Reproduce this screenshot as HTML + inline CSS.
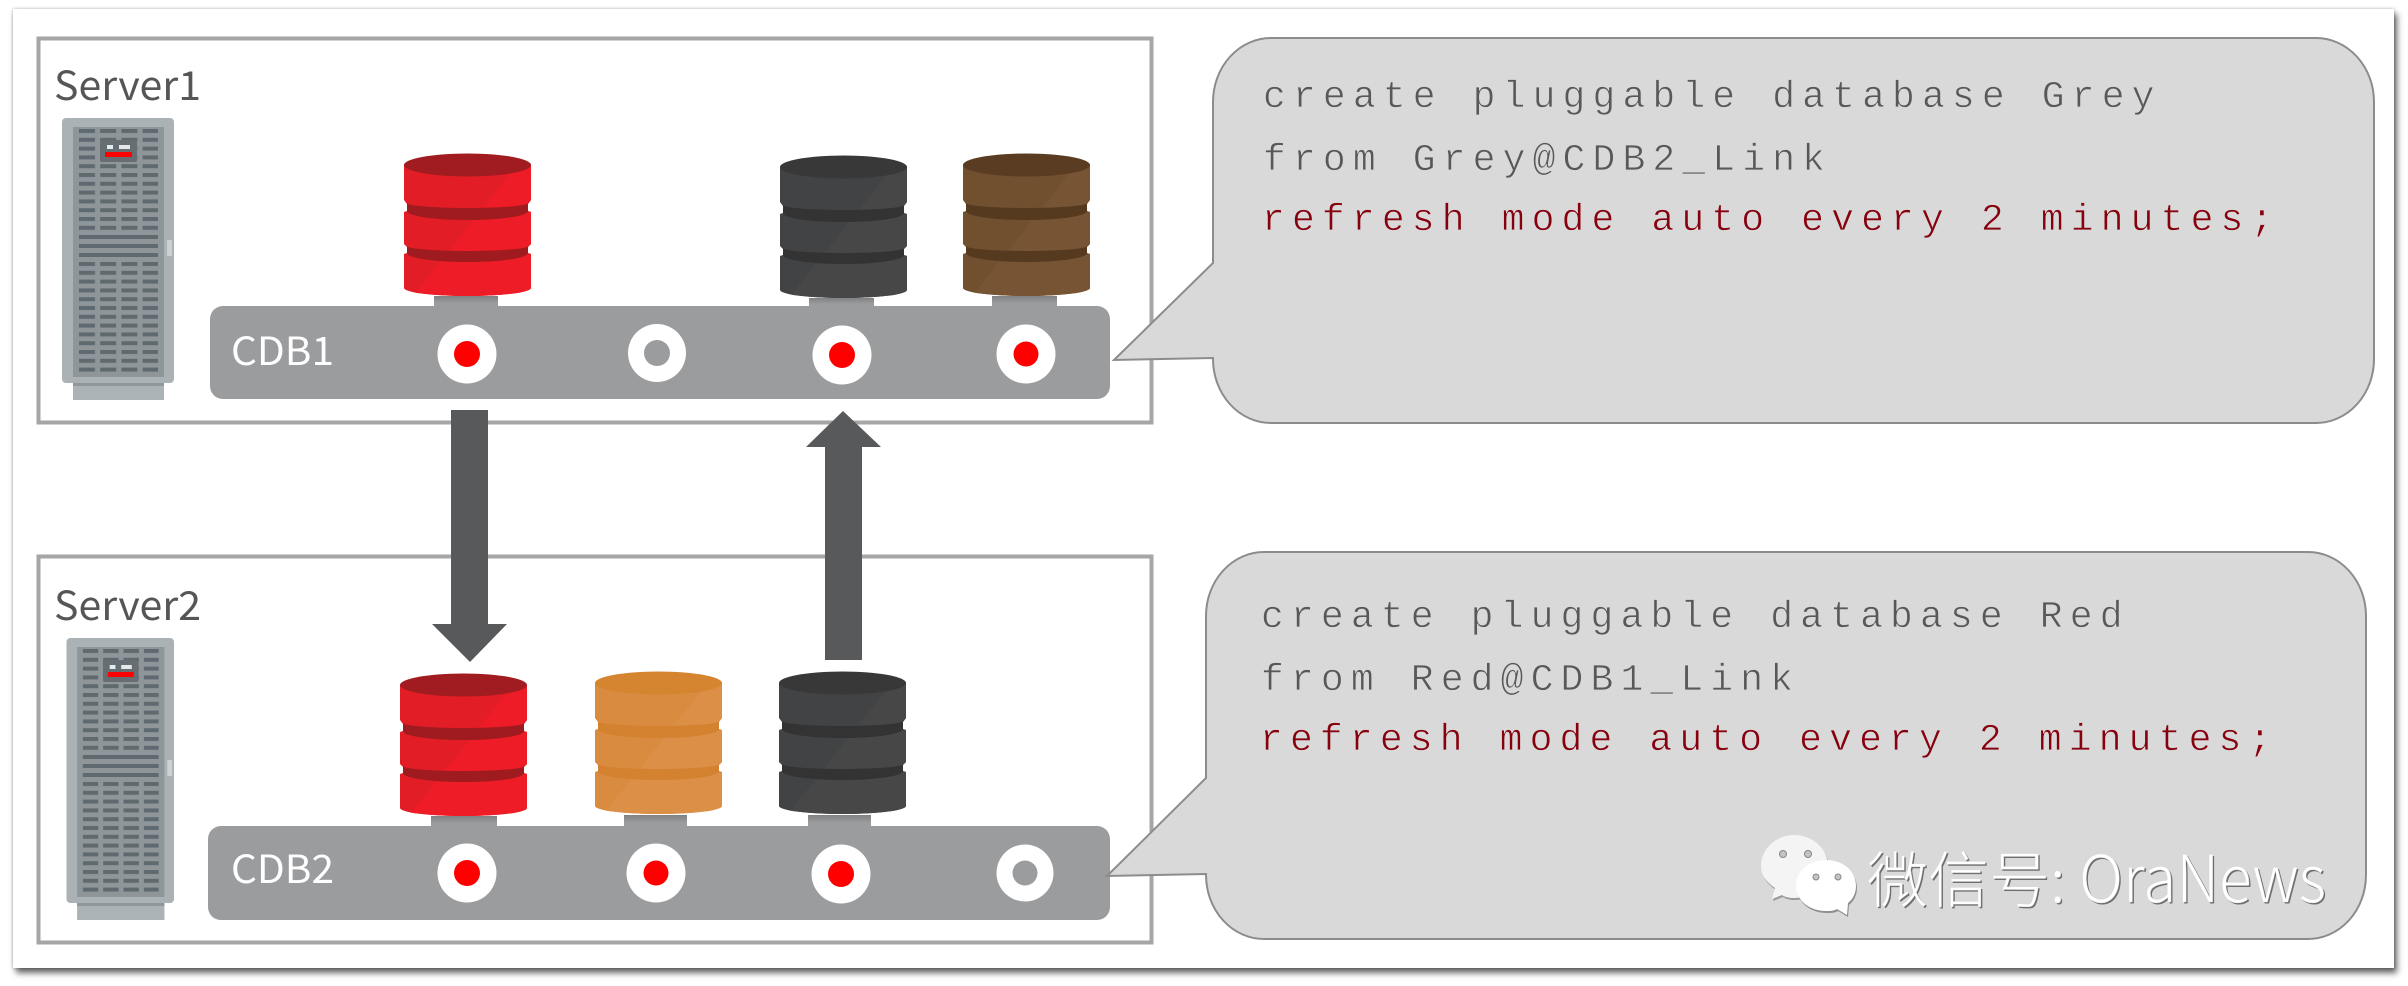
<!DOCTYPE html>
<html><head><meta charset="utf-8">
<style>
html,body{margin:0;padding:0;background:#fff;width:2408px;height:986px;overflow:hidden}
#panel{position:absolute;left:13px;top:9px;width:2381px;height:959px;background:#fff;box-shadow:3px 5px 6px rgba(0,0,0,.6),0 0 3px rgba(0,0,0,.3)}
svg{position:absolute;left:0;top:0}
.mono{font-family:"Liberation Mono",monospace;font-size:38px;letter-spacing:7.15px;stroke:#d9d9d9;stroke-width:.7px}
.g{fill:#585858}.r{fill:#86000e}
.sans{font-family:"Noto Sans CJK SC","Liberation Sans",sans-serif;font-size:40px}
.wm{font-family:"Noto Sans CJK SC","Liberation Sans",sans-serif;font-weight:300}
</style></head><body>
<div id="panel"></div>
<svg width="2408" height="986" viewBox="0 0 2408 986" xmlns="http://www.w3.org/2000/svg">
<defs>
<pattern id="sl" x="6" y="0" width="21.2" height="8.8" patternUnits="userSpaceOnUse">
<rect x="0" y="0" width="16" height="4" fill="#5f6a70"/>
</pattern>
<clipPath id="bc"><path d="M0,11V46L3,50V57L0,58V90L3,93V99L0,100V134A63.5,8 0 0 0 127,134V100L124,99V93L127,90V58L124,57V50L127,46V11Z"/></clipPath>
<g id="srv">
<rect x="0" y="0" width="112" height="265" rx="4" fill="#aab2b6"/>
<rect x="11" y="265" width="91" height="17" fill="#abb3b7"/>
<rect x="11" y="265" width="91" height="3" fill="#8f979b"/>
<rect x="11" y="9" width="91" height="250" fill="#8e969a"/>
<g transform="translate(11,11)">
<rect x="6" y="0" width="79" height="105" fill="url(#sl)"/>
<rect x="6" y="106" width="79" height="4" fill="#5f6a70"/>
<rect x="6" y="115" width="79" height="4" fill="#5f6a70"/>
<rect x="6" y="124" width="79" height="4" fill="#5f6a70"/>
<g transform="translate(0,133)"><rect x="6" y="0" width="79" height="114" fill="url(#sl)"/></g>
</g>
<rect x="38" y="22" width="37" height="22" rx="2" fill="#666e74"/>
<rect x="43" y="34" width="27" height="5" fill="#f00"/>
<rect x="45" y="27" width="6" height="4" fill="#dfeef0"/>
<rect x="57" y="27" width="11" height="4" fill="#e5e8e8"/>
<rect x="105" y="122" width="5" height="16" fill="#ccd2d4"/>
</g>
<g id="db">
<path d="M0,11V46L3,50V57L0,58V90L3,93V99L0,100V134A63.5,8 0 0 0 127,134V100L124,99V93L127,90V58L124,57V50L127,46V11Z" style="fill:var(--b)"/>
<polygon points="113,11 127,11 127,143 8,143" style="fill:var(--h)" clip-path="url(#bc)"/>
<path d="M3,49A60.5,5 0 0 0 124,49V57A60.5,9 0 0 1 3,57Z" style="fill:var(--d)"/>
<path d="M3,92A60.5,5 0 0 0 124,92V99A60.5,9 0 0 1 3,99Z" style="fill:var(--d)"/>
<ellipse cx="63.5" cy="11" rx="63.5" ry="11.5" style="fill:var(--t)"/>
</g>
<linearGradient id="cg" x1="0" y1="0" x2="0" y2="1"><stop offset="0" stop-color="#808183"/><stop offset=".6" stop-color="#9b9c9e"/></linearGradient>
</defs>

<!-- Server boxes -->
<rect x="38.5" y="38.5" width="1113" height="384" fill="#fff" stroke="#a6a6a6" stroke-width="4"/>
<rect x="38.5" y="556.5" width="1113" height="386" fill="#fff" stroke="#a6a6a6" stroke-width="4"/>

<text x="54" y="100" class="sans" fill="#565656" textLength="147" lengthAdjust="spacingAndGlyphs">Server1</text>
<text x="54" y="620" class="sans" fill="#565656" textLength="147" lengthAdjust="spacingAndGlyphs">Server2</text>

<use href="#srv" transform="translate(62,118)"/>
<use href="#srv" transform="translate(66.5,638) scale(.96,1)"/>

<!-- connectors -->
<g fill="url(#cg)">
<rect x="434" y="296" width="64" height="12"/>
<rect x="809" y="298" width="65" height="10"/>
<rect x="992" y="296" width="65" height="12"/>
<rect x="431" y="816" width="66" height="12"/>
<rect x="624" y="815" width="63" height="13"/>
<rect x="808" y="815" width="63" height="13"/>
</g>

<!-- CDB bars -->
<rect x="210" y="306" width="900" height="93" rx="13" fill="#9b9c9e"/>
<rect x="208" y="826" width="902" height="94" rx="13" fill="#9b9c9e"/>
<text x="231" y="365" class="sans" fill="#fff" style="font-size:39px" textLength="103" lengthAdjust="spacingAndGlyphs">CDB1</text>
<text x="231" y="883" class="sans" fill="#fff" style="font-size:39px" textLength="103" lengthAdjust="spacingAndGlyphs">CDB2</text>

<!-- DBs -->
<g style="--b:#e31d25;--h:#ee1c26;--d:#9f1b20;--t:#a01c20"><use href="#db" transform="translate(404,154)"/><use href="#db" transform="translate(400,674)"/></g>
<g style="--b:#424344;--h:#474748;--d:#333333;--t:#383838"><use href="#db" transform="translate(780,156)"/><use href="#db" transform="translate(779,672)"/></g>
<g style="--b:#70502f;--h:#765434;--d:#553a20;--t:#5a3c22"><use href="#db" transform="translate(963,154)"/></g>
<g style="--b:#d98b40;--h:#dc8f46;--d:#d48230;--t:#d5842f"><use href="#db" transform="translate(595,672)"/></g>

<!-- Ports -->
<g fill="#fff">
<circle cx="467" cy="354" r="29.5"/><circle cx="657" cy="353" r="29"/><circle cx="842" cy="355" r="29.5"/><circle cx="1026" cy="354" r="29.5"/>
<circle cx="467" cy="873" r="29.5"/><circle cx="656" cy="873" r="29.5"/><circle cx="841" cy="874" r="29.5"/><circle cx="1025" cy="873" r="28.5"/>
</g>
<g fill="#f00">
<circle cx="467" cy="354" r="13"/><circle cx="842" cy="355" r="13"/><circle cx="1026" cy="354" r="12.5"/>
<circle cx="467" cy="873" r="13"/><circle cx="656" cy="873" r="12.5"/><circle cx="841" cy="874" r="13"/>
</g>
<g fill="#9b9c9e"><circle cx="657" cy="353" r="13"/><circle cx="1025" cy="873" r="12.5"/></g>

<!-- Arrows -->
<polygon points="451,410 488,410 488,624 507,624 470,662 432,624 451,624" fill="#58595b"/>
<polygon points="843,411 881,447 862,447 862,660 825,660 825,447 806,447" fill="#58595b"/>

<!-- Bubbles -->
<path d="M1271,38H2316A58,64 0 0 1 2374,102V359A58,64 0 0 1 2316,423H1271A58,64 0 0 1 1213,359V358L1114,360L1213,263V102A58,64 0 0 1 1271,38Z" fill="#d9d9d9" stroke="#8c8c8c" stroke-width="2"/>
<path d="M1264,552H2308A58,64 0 0 1 2366,616V875A58,64 0 0 1 2308,939H1264A58,64 0 0 1 1206,875V874L1107,876L1206,778V616A58,64 0 0 1 1264,552Z" fill="#d9d9d9" stroke="#8c8c8c" stroke-width="2"/>

<text x="1263" y="107" class="mono g">create pluggable database Grey</text>
<text x="1263" y="170" class="mono g">from Grey@CDB2_Link</text>
<text x="1262" y="230" class="mono r">refresh mode auto every 2 minutes;</text>
<text x="1261" y="627" class="mono g">create pluggable database Red</text>
<text x="1261" y="690" class="mono g">from Red@CDB1_Link</text>
<text x="1260" y="750" class="mono r">refresh mode auto every 2 minutes;</text>

<!-- Watermark -->
<g>
<path d="M1794,835C1813,835 1828,849 1828,866C1828,884 1813,898 1794,898C1789,898 1785,897 1782,895L1772,899L1775,888C1766,882 1761,875 1761,866C1761,849 1776,835 1794,835Z" fill="#6f6f6f" opacity=".6" transform="translate(1,2)"/>
<path d="M1794,835C1813,835 1828,849 1828,866C1828,884 1813,898 1794,898C1789,898 1785,897 1782,895L1772,899L1775,888C1766,882 1761,875 1761,866C1761,849 1776,835 1794,835Z" fill="#f4f4f4"/>
<path d="M1826,860C1843,860 1856,871 1856,886C1856,893 1853,899 1848,903L1847,915L1837,909C1834,911 1830,911 1826,911C1809,911 1796,900 1796,886C1796,871 1809,860 1826,860Z" fill="#6f6f6f" opacity=".7" transform="translate(1,2)"/>
<path d="M1826,860C1843,860 1856,871 1856,886C1856,893 1853,899 1848,903L1847,915L1837,909C1834,911 1830,911 1826,911C1809,911 1796,900 1796,886C1796,871 1809,860 1826,860Z" fill="#fff"/>
<circle cx="1783" cy="854" r="3.5" fill="#c4c4c4" stroke="#888"/><circle cx="1808" cy="854" r="3.5" fill="#c4c4c4" stroke="#888"/>
<circle cx="1816" cy="877" r="3" fill="#c4c4c4" stroke="#888"/><circle cx="1838" cy="877" r="3" fill="#c4c4c4" stroke="#888"/>

<text x="1868.5" y="903.5" class="wm" font-size="61" fill="#6f6f6f">微信号</text>
<text x="2051.5" y="903.5" class="wm" font-size="61" fill="#6f6f6f">:</text>
<text x="2080.5" y="903.5" class="wm" font-size="65" fill="#6f6f6f" textLength="247" lengthAdjust="spacingAndGlyphs">OraNews</text>
<g stroke="#d9d9d9" stroke-width=".3">
<text x="1867" y="902" class="wm" font-size="61" fill="#fff">微信号</text>
<text x="2050" y="902" class="wm" font-size="61" fill="#fff">:</text>
<text x="2079" y="902" class="wm" font-size="65" fill="#fff" textLength="247" lengthAdjust="spacingAndGlyphs">OraNews</text>
</g>
</g>
</svg>
</body></html>
